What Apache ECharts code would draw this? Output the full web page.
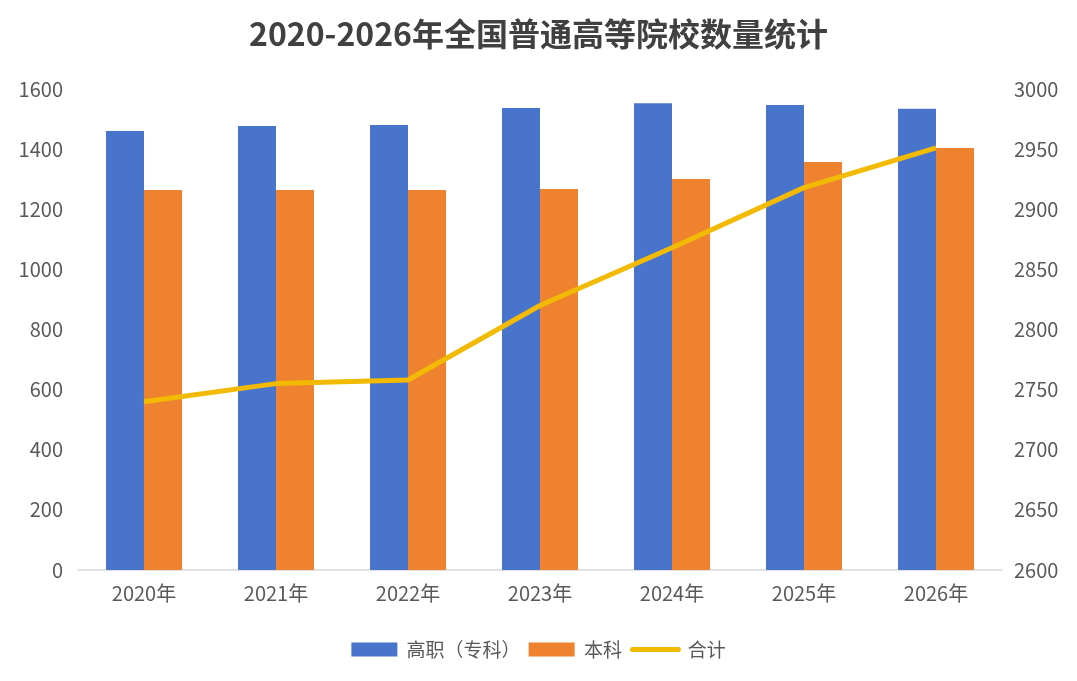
<!DOCTYPE html>
<html>
<head>
<meta charset="utf-8">
<script src="https://cdn.jsdelivr.net/npm/echarts@6/dist/echarts.min.js"></script>
<style>
  html, body { margin: 0; padding: 0; background: #fff; }
  #chart { width: 1077px; height: 681px; }
</style>
</head>
<body>
<div id="chart"></div>
<script>
const years = ["2020年", "2021年", "2022年", "2023年", "2024年", "2025年", "2026年"];
const vocational = [1460, 1477, 1480, 1537, 1553, 1547, 1534];
const undergrad = [1264, 1264, 1264, 1267, 1301, 1357, 1404];
const total = [2740, 2755, 2758, 2820, 2868, 2918, 2951];

const font = "'Noto Sans CJK SC', 'Noto Sans', sans-serif";
const chart = echarts.init(document.getElementById("chart"));

chart.setOption({
  backgroundColor: "#fff",
  textStyle: { fontFamily: font },
  title: {
    text: "2020-2026年全国普通高等院校数量统计",
    left: "center",
    top: 13,
    textStyle: { fontSize: 32, fontWeight: "bold", color: "#404040", fontFamily: font },
  },
  legend: {
    bottom: 17,
    itemWidth: 46,
    itemHeight: 14,
    itemGap: 8,
    formatter: (name) => " " + name,
    textStyle: { fontSize: 19, color: "#595959", fontFamily: font },
    data: [
      { name: "高职（专科）", icon: "rect" },
      { name: "本科", icon: "rect" },
      { name: "合计", itemStyle: { opacity: 0 }, lineStyle: { width: 5, cap: "round" } },
    ],
  },
  grid: { left: 78, right: 75, top: 89, bottom: 111 },
  xAxis: {
    type: "category",
    data: years,
    axisLine: { lineStyle: { color: "#d9d9d9", width: 1.5 } },
    axisTick: { show: false },
    axisLabel: { fontSize: 20, color: "#595959", margin: 13 },
  },
  yAxis: [
    {
      type: "value",
      min: 0,
      max: 1600,
      interval: 200,
      splitLine: { show: false },
      axisLabel: { fontSize: 20, color: "#595959", margin: 15, formatter: (v) => String(v) },
    },
    {
      type: "value",
      min: 2600,
      max: 3000,
      interval: 50,
      splitLine: { show: false },
      axisLabel: { fontSize: 20, color: "#595959", margin: 12, formatter: (v) => String(v) },
    },
  ],
  series: [
    {
      name: "高职（专科）",
      type: "bar",
      data: vocational,
      barWidth: 38,
      barGap: "0%",
      itemStyle: { color: "#4874cb" },
    },
    {
      name: "本科",
      type: "bar",
      data: undergrad,
      barWidth: 38,
      barGap: "0%",
      itemStyle: { color: "#ee822f" },
    },
    {
      name: "合计",
      type: "line",
      yAxisIndex: 1,
      data: total,
      symbol: "none",
      lineStyle: { color: "#f2ba02", width: 5 },
      itemStyle: { color: "#f2ba02" },
    },
  ],
});
</script>
</body>
</html>
